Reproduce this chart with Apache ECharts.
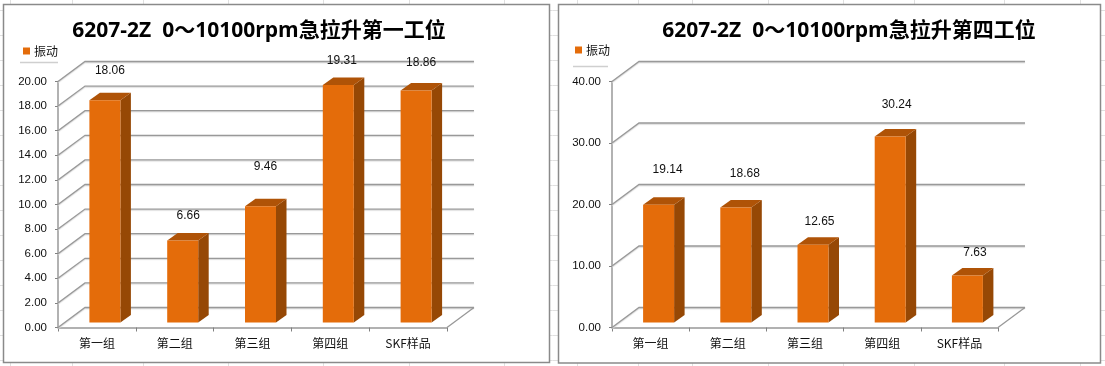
<!DOCTYPE html>
<html><head><meta charset="utf-8">
<style>html,body{margin:0;padding:0;background:#fff}#c{width:1105px;height:366px}</style>
<script src="https://cdn.jsdelivr.net/npm/echarts@6/dist/echarts.min.js"></script>
</head><body><div id="c"></div>
<script>
const categoriesLeft = ['第一组','第二组','第三组','第四组','SKF样品'];
const valuesLeft = [18.06,6.66,9.46,19.31,18.86];
const categoriesRight = ['第一组','第二组','第三组','第四组','SKF样品'];
const valuesRight = [19.14,18.68,12.65,30.24,7.63];
const ticksLeft = [0,2,4,6,8,10,12,14,16,18,20];
const ticksRight = [0,10,20,30,40];
const titleLeft = '6207-2Z  0～10100rpm急拉升第一工位';
const titleRight = '6207-2Z  0～10100rpm急拉升第四工位';
const seriesName = '振动';
// label placement relative to the bar's top front edge, in pixels
const liftLeft = [30,25,39,24,28];
const liftRight = [35,34,23,32,23];
const shiftLeft = [5,5.5,5,3.5,5];
const shiftRight = [9,9,6.5,6.5,7.5];

const layout = [
 {frame:[3.5,4.5,546,358], grid:[58,81.5,389,246], titleX:254, titleY:16, legendX:23, legendY:45, shadow:[20,62,58]},
 {frame:[558.5,4.5,542,358.5], grid:[612,81.5,386,246], titleX:844, titleY:16, legendX:575, legendY:44, shadow:[573,66,608]}
];
const DX=27, DY=-20;
const font='"Noto Sans CJK SC","Liberation Sans",sans-serif';
const numFont='"Liberation Sans",sans-serif';
const titleFont='"Open Sans","Noto Sans CJK SC",sans-serif';

function wallSeries(i,ticks){
  return {type:'custom',name:'wall',xAxisIndex:i,yAxisIndex:i,silent:true,z:1,
    data:ticks.map(t=>[0,t]),
    renderItem(p,api){
      const pt=api.coord([0,api.value(1)]);
      const r=p.coordSys;
      const x0=r.x,x1=r.x+r.width,y=pt[1];
      const pts=[[x0,y],[x0+DX,y+DY],[x1+DX,y+DY]];
      const st={stroke:'#999999',fill:null,lineWidth:1.3,shadowColor:'#d8d8d8',shadowOffsetY:1,shadowBlur:1};
      const kids=[{type:'polyline',shape:{points:pts},style:st}];
      if(api.value(1)===0) kids.push({type:'line',shape:{x1:x1,y1:y,x2:x1+DX,y2:y+DY},style:{stroke:'#989898',lineWidth:1.3}});
      return {type:'group',children:kids};
    }};
}
function barSeries(i,cats,vals,lift,shift){
  return {type:'custom',name:seriesName,xAxisIndex:i,yAxisIndex:i,z:3,
    itemStyle:{color:'#E46C0A'},
    data:vals.map((v,k)=>[cats[k],v,lift[k],shift[k]]),
    encode:{x:0,y:1},
    renderItem(p,api){
      const v=api.value(1), k=p.dataIndex;
      const top=api.coord([k,v]), base=api.coord([k,0]);
      const w=31,dx=10.5,dy=-7.5,ox=8,oy=-5;
      const l=top[0]-w/2+ox, r=l+w, t=top[1]+oy, b=base[1]+oy;
      return {type:'group',children:[
        {type:'polygon',shape:{points:[[r,t],[r+dx,t+dy],[r+dx,b+dy],[r,b]]},style:{fill:'#964805'}},
        {type:'polygon',shape:{points:[[l,t],[l+dx,t+dy],[r+dx,t+dy],[r,t]]},style:{fill:'#AF5307'}},
        {type:'rect',shape:{x:l,y:t,width:w,height:b-t},style:{fill:'#E46C0A'}},
        {type:'text',style:{text:v.toFixed(2),x:l+w/2+api.value(3),y:t-api.value(2),align:'center',verticalAlign:'middle',fill:'#111',font:'12px '+numFont}}
      ]};
    }};
}
function axes(i,cats,max,step){
  const g=layout[i].grid;
  return {
    grid:{left:g[0],top:g[1],width:g[2],height:g[3]},
    x:{type:'category',gridIndex:i,data:cats,boundaryGap:true,
       axisLine:{lineStyle:{color:'#989898',width:1.5}},axisTick:{show:true,alignWithLabel:false,length:4,lineStyle:{color:'#808080'},inside:false},
       axisLabel:{color:'#111',fontFamily:font,fontSize:12,margin:10}},
    y:{type:'value',gridIndex:i,min:0,max:max,interval:step,
       axisLine:{show:true,lineStyle:{color:'#989898',width:1.5}},axisTick:{show:true,length:3,lineStyle:{color:'#808080'}},
       splitLine:{show:false},
       axisLabel:{color:'#111',fontFamily:numFont,fontSize:11.5,margin:11,formatter:v=>v.toFixed(2)}}
  };
}
const a0=axes(0,categoriesLeft,20,2), a1=axes(1,categoriesRight,40,10);

// spreadsheet cell lines behind the charts
const sheetX=[10,72,143,228,323,409,504,577,638,692,768,843,914,1004,1080];
const sheetY=[10,35,60,85,110,135,160,185,210,235,260,285,310,335,360];
const graphics=[];
sheetX.forEach(x=>graphics.push({type:'line',z:-2,shape:{x1:x+.5,y1:0,x2:x+.5,y2:366},style:{stroke:'#e0e0e0'}}));
sheetY.forEach(y=>graphics.push({type:'line',z:-2,shape:{x1:0,y1:y+.5,x2:1105,y2:y+.5},style:{stroke:'#e0e0e0'}}));
layout.forEach(l=>{
  graphics.push({type:'rect',z:-1,shape:{x:l.frame[0],y:l.frame[1],width:l.frame[2],height:l.frame[3]},style:{fill:'#fff',stroke:'#8a8a8a',lineWidth:1.5}});
  graphics.push({type:'line',z:-1,shape:{x1:l.shadow[0],y1:l.shadow[1]+.5,x2:l.shadow[2],y2:l.shadow[1]+.5},style:{stroke:'#cfcfcf',lineWidth:1.5}});
});

const chart=echarts.init(document.getElementById('c'),null,{renderer:'canvas'});
const legendText={fontFamily:font,fontSize:12,color:'#111',padding:[0,0,0,-1]};
chart.setOption({
  animation:false,backgroundColor:'#fff',
  title:[
   {text:titleLeft,left:layout[0].titleX,top:layout[0].titleY,textAlign:'center',textStyle:{fontFamily:titleFont,fontWeight:'bold',fontSize:21,color:'#000'}},
   {text:titleRight,left:layout[1].titleX,top:layout[1].titleY,textAlign:'center',textStyle:{fontFamily:titleFont,fontWeight:'bold',fontSize:21,color:'#000'}}
  ],
  legend:[
   {data:[seriesName],left:layout[0].legendX,top:layout[0].legendY,itemWidth:7,itemHeight:7,itemGap:4,icon:'rect',textStyle:legendText,padding:0,selectedMode:false},
   {data:[seriesName],left:layout[1].legendX,top:layout[1].legendY,itemWidth:7,itemHeight:7,itemGap:4,icon:'rect',textStyle:legendText,padding:0,selectedMode:false}
  ],
  grid:[a0.grid,a1.grid],
  xAxis:[a0.x,a1.x],
  yAxis:[a0.y,a1.y],
  graphic:{elements:graphics},
  series:[wallSeries(0,ticksLeft),wallSeries(1,ticksRight),
          barSeries(0,categoriesLeft,valuesLeft,liftLeft,shiftLeft),barSeries(1,categoriesRight,valuesRight,liftRight,shiftRight)]
});
</script></body></html>
